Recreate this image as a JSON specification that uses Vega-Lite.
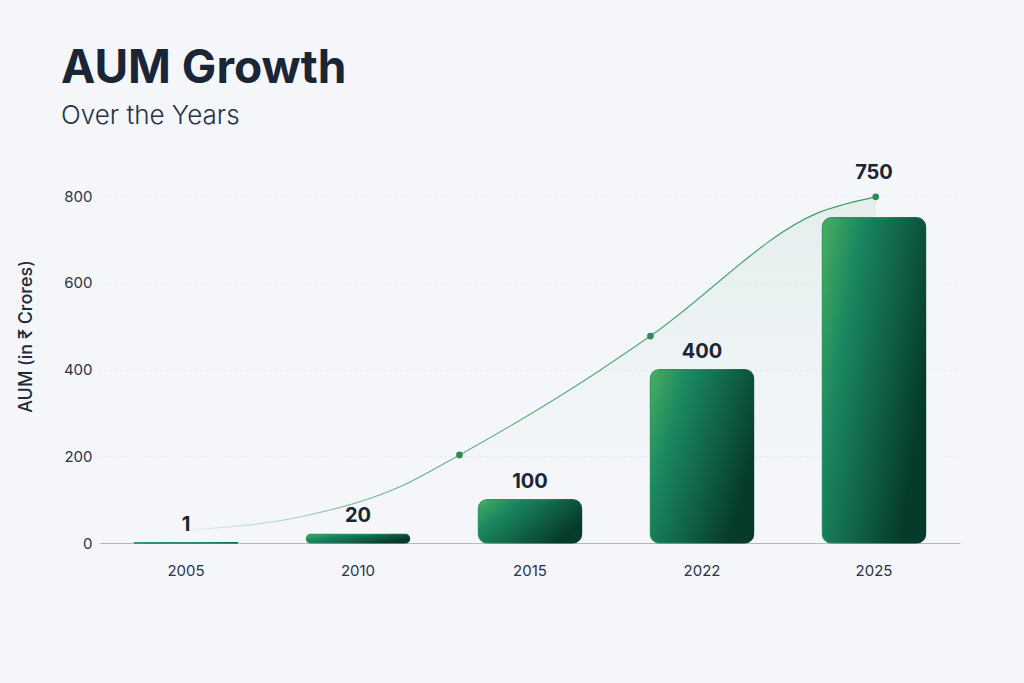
{
  "$schema": "https://vega.github.io/schema/vega-lite/v6.json",
  "description": "AUM Growth Over the Years",
  "background": "#f4f6f9",
  "autosize": {"type": "none"},
  "padding": {"left": 100, "top": 196, "right": 64, "bottom": 140},
  "width": 860,
  "height": 347,
  "title": {
    "text": "AUM Growth",
    "subtitle": "Over the Years",
    "anchor": "start",
    "frame": "group",
    "dx": -39,
    "font": "Inter",
    "fontSize": 46,
    "fontWeight": 700,
    "color": "#1a2536",
    "subtitleFont": "Inter",
    "subtitleFontSize": 26,
    "subtitleFontWeight": 300,
    "subtitleColor": "#26324a",
    "subtitlePadding": 10,
    "offset": 33
  },
  "datasets": {
    "aum": [
      {"year": "2005", "aum": 1},
      {"year": "2010", "aum": 20},
      {"year": "2015", "aum": 100},
      {"year": "2022", "aum": 400},
      {"year": "2025", "aum": 750}
    ],
    "trend": [
      {"pos": 0.52, "aum": 30, "dot": false},
      {"pos": 1.16, "aum": 60, "dot": false},
      {"pos": 1.74, "aum": 129, "dot": false},
      {"pos": 2.09, "aum": 203, "dot": true},
      {"pos": 2.91, "aum": 399, "dot": false},
      {"pos": 3.2, "aum": 477, "dot": true},
      {"pos": 4.2, "aum": 765, "dot": false},
      {"pos": 4.51, "aum": 798, "dot": true}
    ]
  },
  "config": {
    "view": {"stroke": null},
    "font": "Inter",
    "axis": {
      "labelFont": "Inter",
      "titleFont": "Inter",
      "labelColor": "#2b3445",
      "titleColor": "#1f2a3a"
    }
  },
  "layer": [
    {
      "data": {"name": "trend"},
      "mark": {
        "type": "area",
        "interpolate": "monotone",
        "fill": {
          "gradient": "linear",
          "x1": 0, "y1": 0, "x2": 0, "y2": 1,
          "stops": [
            {"offset": 0, "color": "rgba(40,150,100,0.08)"},
            {"offset": 0.45, "color": "rgba(40,150,100,0.03)"},
            {"offset": 0.8, "color": "rgba(40,150,100,0)"}
          ]
        }
      },
      "encoding": {
        "x": {"field": "pos", "type": "quantitative", "scale": {"domain": [0, 5]}, "axis": null},
        "y": {"field": "aum", "type": "quantitative"}
      }
    },
    {
      "layer": [
        {
          "mark": {
            "type": "bar",
            "cornerRadius": 9,
            "strokeWidth": 1.2,
            "stroke": {
              "gradient": "linear",
              "x1": 0, "y1": 0, "x2": 1, "y2": 0.5,
              "stops": [
                {"offset": 0, "color": "#2f9a60"},
                {"offset": 0.5, "color": "#1b8860"},
                {"offset": 1, "color": "#063b2c"}
              ]
            },
            "fill": {
              "gradient": "linear",
              "x1": 0, "y1": 0, "x2": 1, "y2": 0.5,
              "stops": [
                {"offset": 0, "color": "#4cae60"},
                {"offset": 0.3, "color": "#1b8860"},
                {"offset": 0.7, "color": "#0f5d42"},
                {"offset": 1, "color": "#063b2c"}
              ]
            }
          },
          "encoding": {
            "x": {
              "field": "year",
              "type": "ordinal",
              "scale": {"paddingInner": 0.4, "paddingOuter": 0.2},
              "axis": {
                "title": null,
                "labelAngle": 0,
                "labelFontSize": 15,
                "labelPadding": 20,
                "ticks": false,
                "domainColor": "#b3b8c0",
                "domainWidth": 1.2,
                "grid": false
              }
            },
            "y": {
              "field": "aum",
              "type": "quantitative",
              "scale": {"domain": [0, 800]},
              "axis": {
                "title": "AUM (in ₹ Crores)",
                "titleFontSize": 18,
                "titleFontWeight": 500,
                "titlePadding": 28,
                "titleAnchor": "middle",
                "titleY": 140,
                "values": [0, 200, 400, 600, 800],
                "labelFontSize": 15,
                "labelPadding": 8,
                "ticks": false,
                "domain": false,
                "gridColor": "#d3d7de",
                "gridDash": [1, 4],
                "gridWidth": 1
              }
            }
          }
        },
        {
          "transform": [{"filter": "datum.aum < 700"}],
          "mark": {
            "type": "text",
            "baseline": "bottom",
            "dy": -8,
            "fontSize": 20,
            "fontWeight": 700,
            "color": "#1a2536"
          },
          "encoding": {
            "x": {"field": "year", "type": "ordinal"},
            "y": {"field": "aum", "type": "quantitative"},
            "text": {"field": "aum", "type": "quantitative"}
          }
        },
        {
          "transform": [{"filter": "datum.aum >= 700"}],
          "mark": {
            "type": "text",
            "baseline": "bottom",
            "dy": -35,
            "fontSize": 20,
            "fontWeight": 700,
            "color": "#1a2536"
          },
          "encoding": {
            "x": {"field": "year", "type": "ordinal"},
            "y": {"field": "aum", "type": "quantitative"},
            "text": {"field": "aum", "type": "quantitative"}
          }
        }
      ],
      "data": {"name": "aum"}
    },
    {
      "data": {"name": "trend"},
      "layer": [
        {
          "mark": {
            "type": "line",
            "interpolate": "monotone",
            "strokeWidth": 1.2,
            "stroke": {
              "gradient": "linear",
              "x1": 0, "y1": 0, "x2": 1, "y2": 0,
              "stops": [
                {"offset": 0, "color": "rgba(74,163,110,0.08)"},
                {"offset": 0.3, "color": "rgba(74,163,110,0.8)"},
                {"offset": 1, "color": "rgba(60,155,100,1)"}
              ]
            }
          },
          "encoding": {
            "x": {"field": "pos", "type": "quantitative", "scale": {"domain": [0, 5]}, "axis": null},
            "y": {"field": "aum", "type": "quantitative"}
          }
        },
        {
          "transform": [{"filter": "datum.dot"}],
          "mark": {"type": "point", "filled": true, "size": 45, "color": "#2e8b55", "opacity": 1},
          "encoding": {
            "x": {"field": "pos", "type": "quantitative", "scale": {"domain": [0, 5]}, "axis": null},
            "y": {"field": "aum", "type": "quantitative"}
          }
        }
      ]
    }
  ],
  "resolve": {"scale": {"x": "independent"}, "axis": {"x": "independent"}}
}
